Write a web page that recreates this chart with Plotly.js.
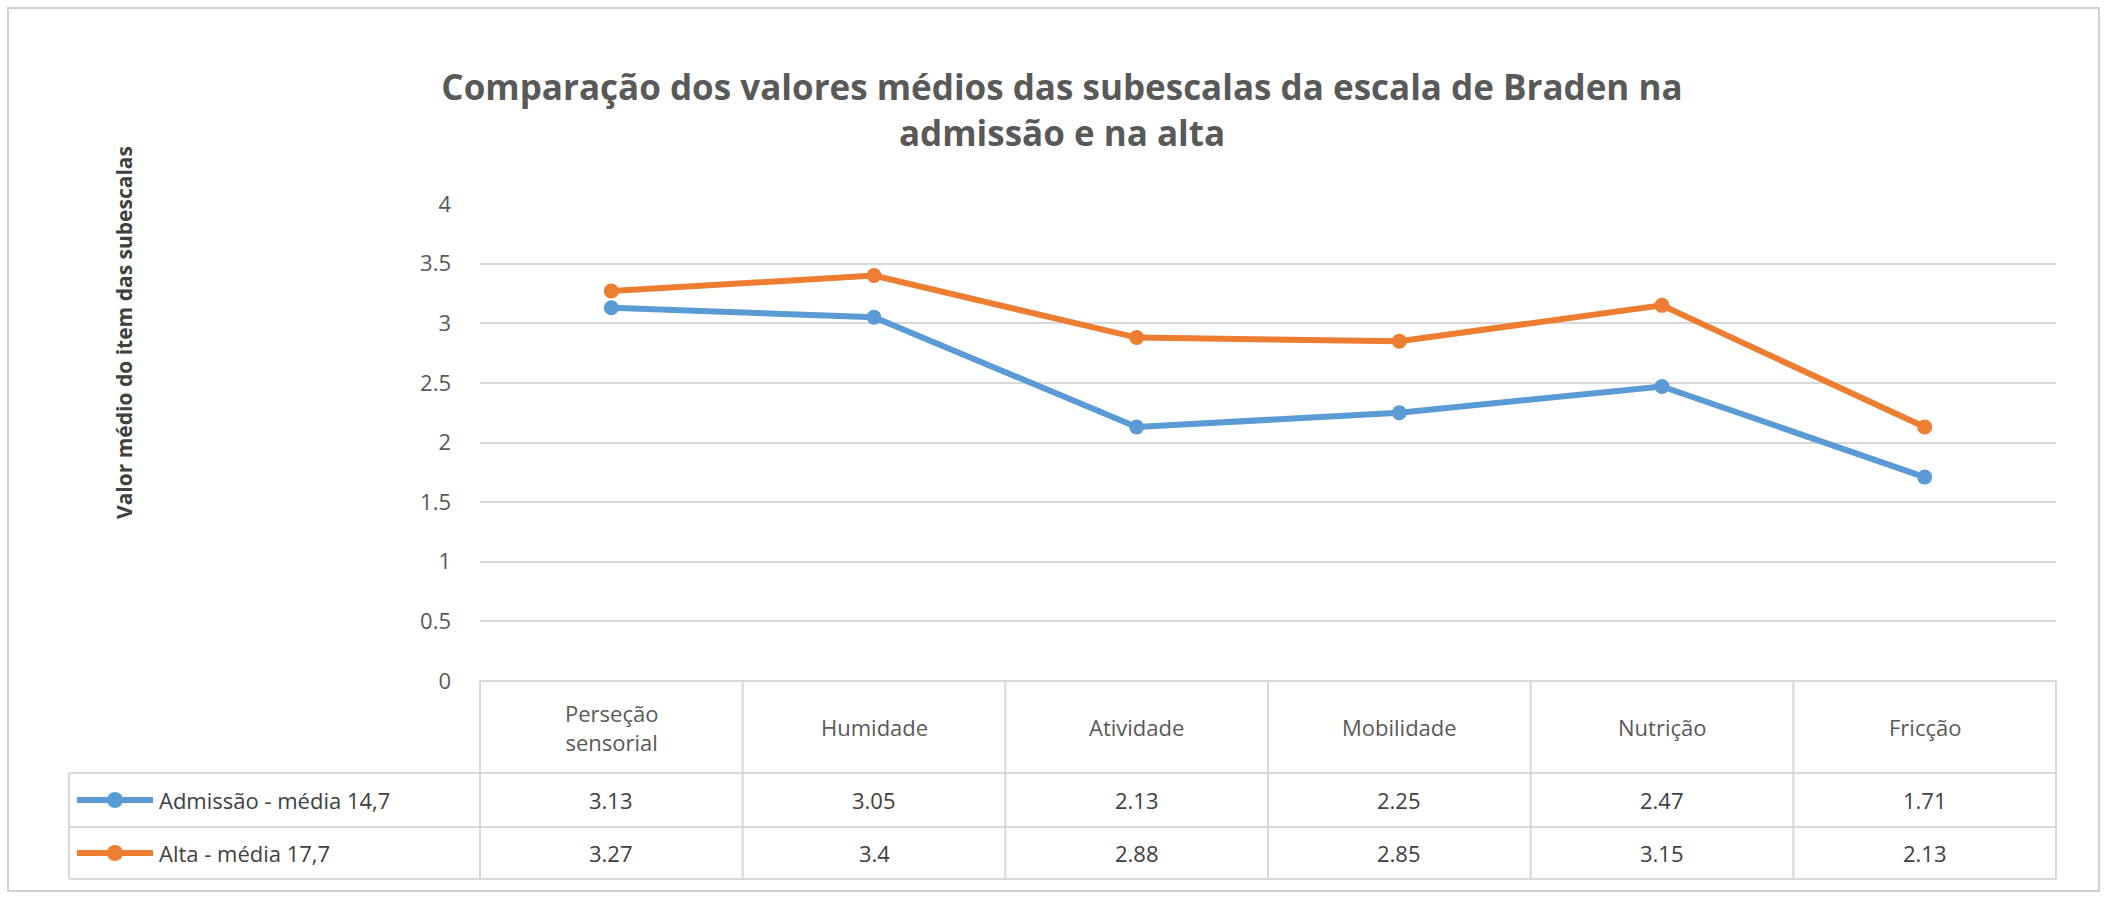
<!DOCTYPE html>
<html><head><meta charset="utf-8">
<script src="https://cdn.plot.ly/plotly-3.0.1.min.js"></script>
<style>body{margin:0;background:#fff}#c{width:2108px;height:900px}</style>
</head><body><div id="c"></div>
<script>
const categories = ["Perseção<br>sensorial","Humidade","Atividade","Mobilidade","Nutrição","Fricção"];
const admissao = [3.13,3.05,2.13,2.25,2.47,1.71];
const alta = [3.27,3.4,2.88,2.85,3.15,2.13];
const seriesNames = ["Admissão - média 14,7","Alta - média 17,7"];
const colors = ["#5B9BD5","#ED7D31"];
const W=2108,H=900,L=480,R=2056,T=204,B=681;
const px=x=>(x-L)/(R-L), py=y=>(B-y)/(B-T);
const gray="#595959", lc="#d9d9d9";
const xs=[0,1,2,3,4,5];
const traces=[admissao,alta].map((v,i)=>({x:xs,y:v,type:"scatter",mode:"lines+markers",name:seriesNames[i],
 line:{color:colors[i],width:6},marker:{color:colors[i],size:15},cliponaxis:false}));
const shapes=[], ann=[];
const rows=[681,773,827,879];
shapes.push({type:"line",xref:"paper",yref:"paper",x0:0,x1:1,y0:py(681),y1:py(681),line:{color:lc,width:2}});
[773,827,879].forEach(y=>shapes.push({type:"line",xref:"paper",yref:"paper",x0:px(69),x1:1,y0:py(y),y1:py(y),line:{color:lc,width:2}}));
for(let k=0;k<=6;k++){shapes.push({type:"line",xref:"paper",yref:"paper",x0:k/6,x1:k/6,y0:py(681),y1:py(879),line:{color:lc,width:2}});}
shapes.push({type:"line",xref:"paper",yref:"paper",x0:px(69),x1:px(69),y0:py(773),y1:py(879),line:{color:lc,width:2}});
shapes.push({type:"rect",xref:"paper",yref:"paper",x0:px(8),x1:px(2099),y0:py(8),y1:py(891),line:{color:"#d0d0d0",width:2}});
categories.forEach((c,i)=>ann.push({xref:"x",yref:"paper",x:i,y:py(727),yanchor:"middle",text:c,showarrow:false,font:{size:22,color:gray}}));
[admissao,alta].forEach((v,r)=>{
 const yc=(rows[r+1]+rows[r+2])/2;
 v.forEach((val,i)=>ann.push({xref:"x",yref:"paper",x:i,y:py(yc),yanchor:"middle",text:String(val),showarrow:false,font:{size:22,color:"#404040"}}));
 shapes.push({type:"line",xref:"paper",yref:"paper",x0:px(77),x1:px(153),y0:py(yc),y1:py(yc),line:{color:colors[r],width:6}});
 shapes.push({type:"circle",xref:"paper",yref:"paper",x0:px(107),x1:px(123),y0:py(yc-8),y1:py(yc+8),fillcolor:colors[r],line:{width:0}});
 ann.push({xref:"paper",yref:"paper",x:px(157),y:py(yc),xanchor:"left",yanchor:"middle",text:seriesNames[r],showarrow:false,font:{size:22,color:"#404040"}});
});
ann.push({xref:"paper",yref:"paper",x:px(124),y:py(333),xanchor:"center",yanchor:"middle",text:"<b>Valor médio do item das subescalas</b>",textangle:-90,showarrow:false,font:{size:21,color:"#404040"}});
const layout={width:W,height:H,margin:{l:L,r:W-R,t:T,b:H-B},paper_bgcolor:"#fff",plot_bgcolor:"#fff",showlegend:false,
 font:{family:"Open Sans, sans-serif",color:gray},
 title:{text:"<b>Comparação dos valores médios das subescalas da escala de Braden na<br>admissão e na alta</b>",x:1062/W,xref:"container",xanchor:"center",y:1-100/H,yanchor:"middle",font:{size:35,color:gray}},
 xaxis:{range:[-0.5,5.5],showticklabels:false,showgrid:false,zeroline:false,fixedrange:true},
 yaxis:{range:[0,4],dtick:0.5,showgrid:true,gridcolor:lc,gridwidth:2,zeroline:false,showline:false,tickfont:{size:22,color:gray},ticklabelstandoff:28},
 shapes:shapes,annotations:ann};
Plotly.newPlot("c",traces,layout,{staticPlot:true});
</script></body></html>
